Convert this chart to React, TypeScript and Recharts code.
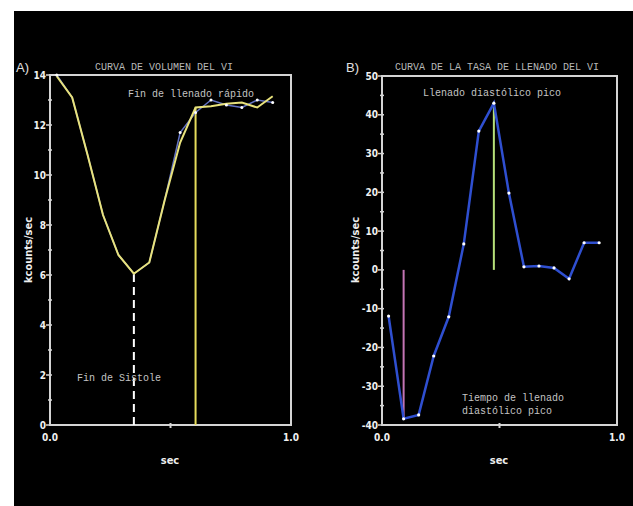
import React from "react";
import { LineChart, Line, XAxis, YAxis, ReferenceLine, ReferenceArea } from "recharts";

// frame times (sec), shared by both curves
const frameTimes = [0.028, 0.092, 0.156, 0.22, 0.284, 0.348, 0.412, 0.476, 0.54, 0.604, 0.668, 0.732, 0.796, 0.86, 0.924];

// A) volume curve (kcounts/sec)
const volumeFit = [13.95, 13.1, 10.8, 8.4, 6.8, 6.05, 6.5, 9.0, 11.3, 12.7, 12.75, 12.85, 12.9, 12.7, 13.15];
const volumeRaw = [14.0, 13.1, 10.8, 8.4, 6.8, 6.05, 6.5, 9.0, 11.7, 12.5, 13.0, 12.8, 12.7, 13.0, 12.9];

// B) filling rate curve (kcounts/sec)
const fillRate = [-11.9, -38.4, -37.4, -22.2, -12.1, 6.7, 35.8, 43.0, 19.8, 0.8, 1.0, 0.5, -2.3, 7.0, 7.0];

const volumeTicks = [0, 1, 2, 3, 4, 5, 6, 7, 8, 9, 10, 11, 12, 13, 14];
const rateTicks = [-40, -35, -30, -25, -20, -15, -10, -5, 0, 5, 10, 15, 20, 25, 30, 35, 40, 45, 50];
const timeTicks = [0, 0.5, 1];

const endSystole = { t: 0.348, v: 6.05 };
const endRapidFill = { t: 0.604, v: 12.7 };
const peakFill = { t: 0.476, v: 43.0 };
const peakFillTime = { t: 0.092, v: -38.4 };

const FRAME = "#d4d4d4";
const TICK_FONT = "'Liberation Sans Narrow', 'DejaVu Sans Condensed', sans-serif";
const MONO = "'Liberation Mono', 'DejaVu Sans Mono', monospace";

const volumeRows = frameTimes.map((t, i) => ({ t, fit: volumeFit[i], raw: volumeRaw[i] }));
const rateRows = frameTimes.map((t, i) => ({ t, rate: fillRate[i] }));

function makeYTick(majorStep: number) {
  return (props: any) => {
    const { x, y, payload } = props;
    const major = payload.value % majorStep === 0;
    return (
      <g>
        <line x1={x - (major ? 4 : 2)} x2={x + 2} y1={y} y2={y} stroke={FRAME} strokeWidth={1.5} />
        {major && (
          <text x={x - 4} y={y} dy={3.5} textAnchor="end" fill="#f0f0f0" fontSize={10} fontWeight="bold" fontFamily={TICK_FONT}>
            {payload.value}
          </text>
        )}
      </g>
    );
  };
}

function XTick(props: any) {
  const { x, y, payload } = props;
  if (payload.value === 0.5) {
    return <line x1={x} x2={x} y1={y - 2} y2={y + 3} stroke={FRAME} strokeWidth={2} />;
  }
  return (
    <text x={x} y={y} dy={16} textAnchor="middle" fill="#f0f0f0" fontSize={10} fontWeight="bold" fontFamily={TICK_FONT}>
      {payload.value.toFixed(1)}
    </text>
  );
}

// raw samples only show where they stray from the fitted curve
function RawDot(props: any) {
  const { cx, cy, index, payload } = props;
  if (payload.raw === payload.fit && index !== 0) return <g key={`d${index}`} />;
  return <circle key={`d${index}`} cx={cx} cy={cy} r={1.5} fill="#ffffff" />;
}

const txt = (left: number, top: number, s: React.CSSProperties = {}): React.CSSProperties => ({
  position: "absolute",
  left,
  top,
  whiteSpace: "nowrap",
  color: "#c4c4c4",
  fontFamily: MONO,
  fontSize: 10,
  lineHeight: "12px",
  ...s,
});

const axisTitle: React.CSSProperties = {
  color: "#eeeeee",
  fontFamily: TICK_FONT,
  fontWeight: "bold",
  fontSize: 11,
};

export default function App() {
  return (
    <div style={{ position: "absolute", left: 0, top: 0, width: 633, height: 506, background: "#ffffff", overflow: "hidden" }}>
      <div style={{ position: "absolute", left: 14, top: 11, width: 619, height: 495, background: "#000000" }} />

      {/* A) volume curve */}
      <div style={{ position: "absolute", left: 0, top: 0 }}>
        <LineChart width={320} height={506} data={volumeRows} margin={{ top: 75, right: 29, bottom: 51, left: 20 }}>
          <XAxis type="number" dataKey="t" domain={[0, 1]} ticks={timeTicks} tick={<XTick />} tickSize={0} tickMargin={0} tickLine={false} axisLine={false} height={30} interval={0} />
          <YAxis type="number" domain={[0, 14]} ticks={volumeTicks} tick={makeYTick(2)} tickSize={0} tickMargin={0} tickLine={false} axisLine={false} width={30} interval={0} />
          <ReferenceArea x1={0} x2={1} y1={0} y2={14} fill="none" fillOpacity={0} stroke={FRAME} strokeWidth={2} />
          <ReferenceLine segment={[{ x: endSystole.t, y: 0 }, { x: endSystole.t, y: endSystole.v }]} stroke="#ffffff" strokeWidth={2} strokeDasharray="8 5" />
          <ReferenceLine segment={[{ x: endRapidFill.t, y: 0 }, { x: endRapidFill.t, y: endRapidFill.v }]} stroke="#e6dc5c" strokeWidth={2} />
          <Line type="linear" dataKey="raw" stroke="#6272c4" strokeWidth={1.5} dot={RawDot} isAnimationActive={false} />
          <Line type="linear" dataKey="fit" stroke="#e8e27c" strokeWidth={2} dot={false} isAnimationActive={false} />
        </LineChart>
      </div>

      {/* B) filling rate curve */}
      <div style={{ position: "absolute", left: 320, top: 0 }}>
        <LineChart width={313} height={506} data={rateRows} margin={{ top: 76, right: 16, bottom: 51, left: 32 }}>
          <XAxis type="number" dataKey="t" domain={[0, 1]} ticks={timeTicks} tick={<XTick />} tickSize={0} tickMargin={0} tickLine={false} axisLine={false} height={30} interval={0} />
          <YAxis type="number" domain={[-40, 50]} ticks={rateTicks} tick={makeYTick(10)} tickSize={0} tickMargin={0} tickLine={false} axisLine={false} width={30} interval={0} />
          <ReferenceArea x1={0} x2={1} y1={-40} y2={50} fill="none" fillOpacity={0} stroke={FRAME} strokeWidth={2} />
          <ReferenceLine segment={[{ x: peakFill.t, y: 0 }, { x: peakFill.t, y: peakFill.v }]} stroke="#b6e07a" strokeWidth={2} />
          <ReferenceLine segment={[{ x: peakFillTime.t, y: 0 }, { x: peakFillTime.t, y: peakFillTime.v }]} stroke="#c274b4" strokeWidth={2} />
          <Line type="linear" dataKey="rate" stroke="#2f4fd0" strokeWidth={2.5} dot={{ r: 1.6, fill: "#ffffff", stroke: "none" }} isAnimationActive={false} />
        </LineChart>
      </div>

      {/* titles and labels */}
      <div style={txt(16, 60, { color: "#e0e0e0", fontFamily: "'Liberation Sans', sans-serif", fontSize: 13, lineHeight: "16px" })}>A)</div>
      <div style={txt(346, 60, { color: "#e0e0e0", fontFamily: "'Liberation Sans', sans-serif", fontSize: 13, lineHeight: "16px" })}>B)</div>
      <div style={txt(95, 62, { color: "#b8b8b8" })}>CURVA DE VOLUMEN DEL VI</div>
      <div style={txt(395, 62, { color: "#b8b8b8" })}>CURVA DE LA TASA DE LLENADO DEL VI</div>

      <div style={txt(128, 89)}>Fin de llenado rápido</div>
      <div style={txt(77, 373)}>Fin de Sistole</div>
      <div style={txt(423, 88)}>Llenado diastólico pico</div>
      <div style={txt(462, 392, { lineHeight: "13px" })}>
        Tiempo de llenado
        <br />
        diastólico pico
      </div>

      <div style={{ position: "absolute", left: 28, top: 250, transform: "translate(-50%, -50%) rotate(-90deg)", whiteSpace: "nowrap", ...axisTitle }}>kcounts/sec</div>
      <div style={{ position: "absolute", left: 355, top: 250, transform: "translate(-50%, -50%) rotate(-90deg)", whiteSpace: "nowrap", ...axisTitle }}>kcounts/sec</div>
      <div style={{ position: "absolute", left: 170, top: 460, transform: "translate(-50%, -50%)", ...axisTitle }}>sec</div>
      <div style={{ position: "absolute", left: 499, top: 460, transform: "translate(-50%, -50%)", ...axisTitle }}>sec</div>
    </div>
  );
}
